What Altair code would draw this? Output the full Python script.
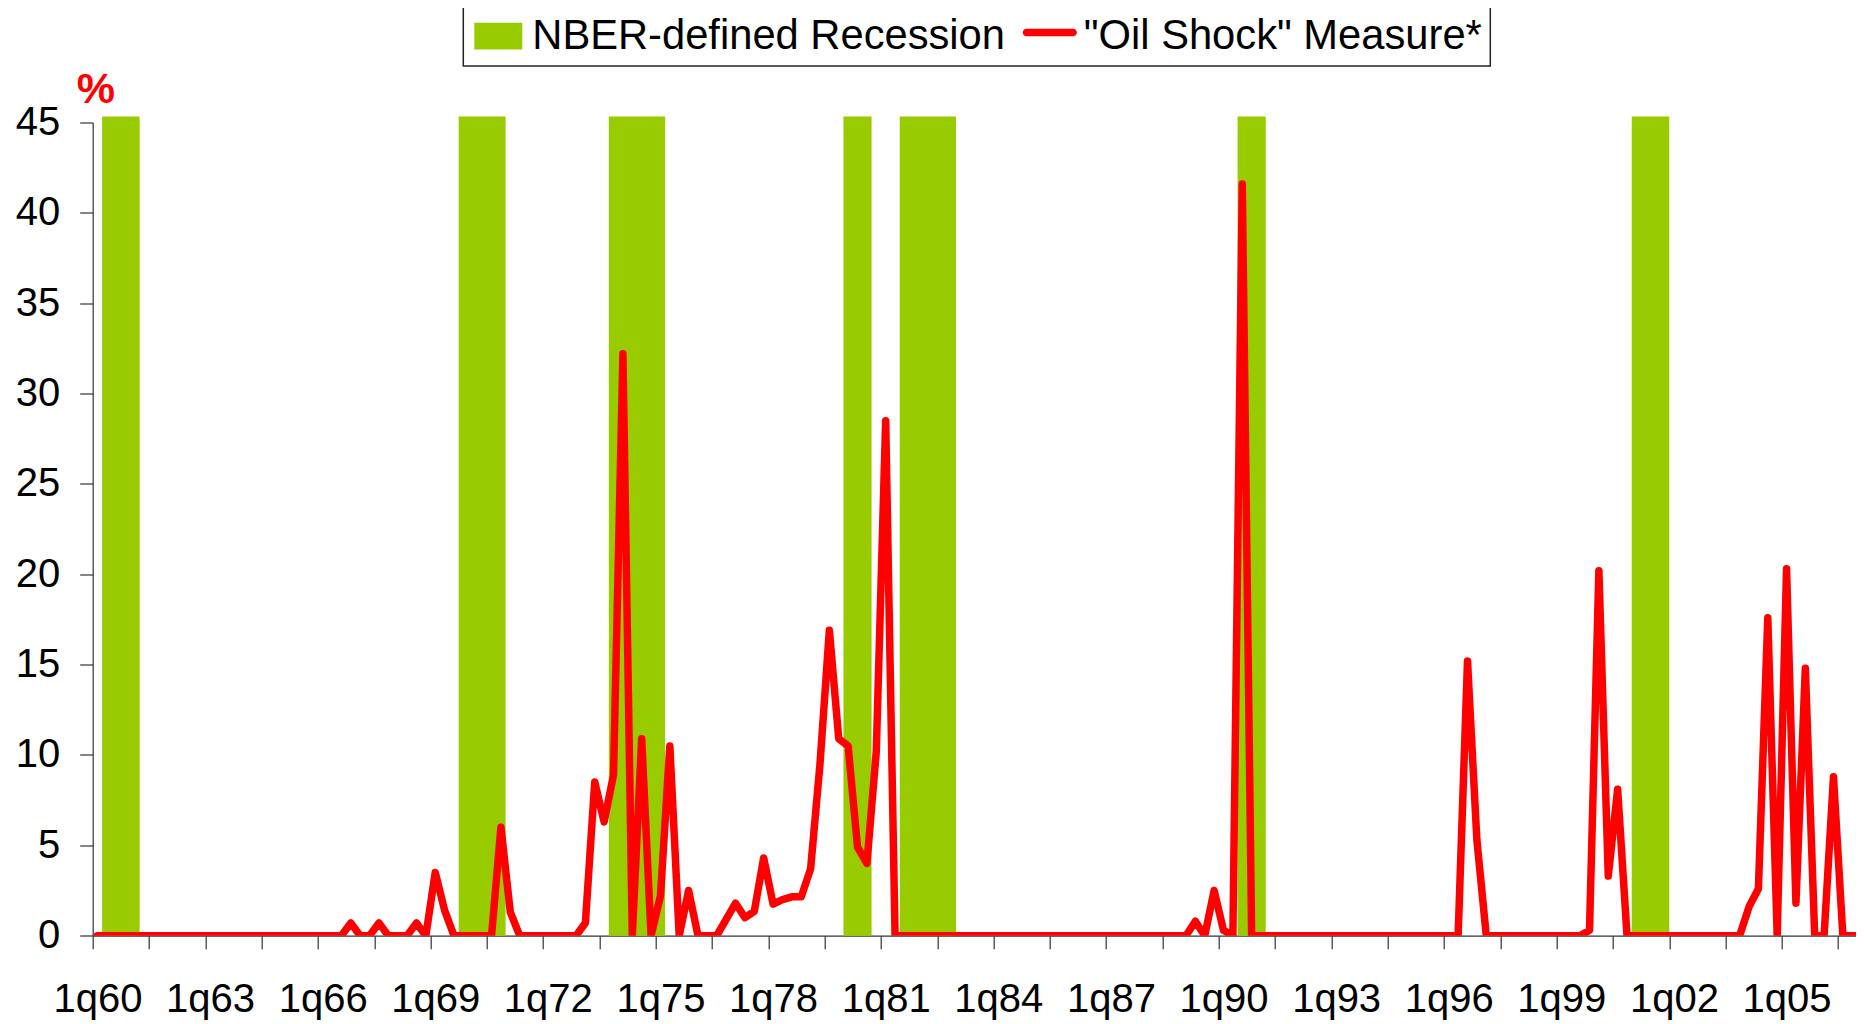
import json
import altair as alt
import pandas as pd

# ---------------- data ----------------
# "Oil Shock" measure (%), one value per quarter, index 0 = 1q60
oil_shock = [
    0, 0, 0, 0, 0, 0, 0, 0, 0, 0,            # 0-9
    0, 0, 0, 0, 0, 0, 0, 0, 0, 0,            # 10-19
    0, 0, 0, 0, 0, 0, 0, 0.7, 0, 0,          # 20-29
    0.7, 0, 0, 0, 0.7, 0, 3.5, 1.4, 0, 0,    # 30-39
    0, 0, 0, 6.0, 1.3, 0, 0, 0, 0, 0,        # 40-49
    0, 0, 0.7, 8.5, 6.3, 8.9, 32.2, 0, 10.9, 0,   # 50-59
    2.2, 10.5, 0, 2.5, 0, 0, 0, 0.9, 1.8, 1.0,    # 60-69
    1.35, 4.3, 1.75, 2.0, 2.15, 2.15, 3.7, 9.5, 16.9, 10.9,  # 70-79
    10.5, 4.9, 4.0, 10.2, 28.5, 0, 0, 0, 0, 0,    # 80-89
    0, 0, 0, 0, 0, 0, 0, 0, 0, 0,            # 90-99
    0, 0, 0, 0, 0, 0, 0, 0, 0, 0,            # 100-109
    0, 0, 0, 0, 0, 0, 0, 0.8, 0, 2.5,        # 110-119
    0.3, 0, 41.6, 0, 0, 0, 0, 0, 0, 0,       # 120-129
    0, 0, 0, 0, 0, 0, 0, 0, 0, 0,            # 130-139
    0, 0, 0, 0, 0, 0, 15.2, 5.3, 0, 0,       # 140-149
    0, 0, 0, 0, 0, 0, 0, 0, 0, 0.3,          # 150-159
    20.2, 3.3, 8.1, 0, 0, 0, 0, 0, 0, 0,     # 160-169
    0, 0, 0, 0, 0, 0, 1.6, 2.6, 17.6, 0,     # 170-179
    20.3, 1.8, 14.8, 0, 0, 8.8, 0, 0, 0,     # 180-188
]

# NBER-defined recessions: first and last quarter (index, 0 = 1q60)
rec_first = [1, 39, 55, 80, 86, 122, 164]
rec_last = [4, 43, 60, 82, 91, 124, 167]
rec_value = [45.33, 45.33, 45.33, 45.33, 45.33, 45.33, 45.33]

tick_labels = ["1q60", "1q63", "1q66", "1q69", "1q72", "1q75", "1q78", "1q81",
               "1q84", "1q87", "1q90", "1q93", "1q96", "1q99", "1q02", "1q05"]
tick_quarters = [0, 6, 12, 18, 24, 30, 36, 42, 48, 54, 60, 66, 72, 78, 84, 90,
                 96, 102, 108, 114, 120, 126, 132, 138, 144, 150, 156, 162,
                 168, 174, 180, 186]
y_ticks = [0, 5, 10, 15, 20, 25, 30, 35, 40, 45]
legend_labels = ["NBER-defined Recession", "\"Oil Shock\" Measure*"]

GREEN = "#99CC00"
RED = "#FF0000"
FONT = "Liberation Sans"

line_df = pd.DataFrame({"q": list(range(len(oil_shock))), "value": oil_shock})
rec_df = pd.DataFrame({"first": rec_first, "last": rec_last, "top": rec_value,
                       "base": [0] * len(rec_first)})
leg_df = pd.DataFrame({"series": legend_labels})

x_scale = alt.Scale(domain=[0, 187.9], nice=False, zero=False)
y_scale = alt.Scale(domain=[0, 45], nice=False, zero=True)

label_expr = ("datum.value % 12 == 0 ? " + json.dumps(tick_labels) +
              "[datum.value / 12] : ''")

x_axis = alt.Axis(values=tick_quarters, labelExpr=label_expr, title=None,
                  grid=False, labelFlush=False, labelOverlap=False,
                  labelBound=False, labelOffset=4.7, labelPadding=63,
                  labelBaseline="alphabetic", labelAngle=0,
                  tickSize=13, tickWidth=1.2, tickColor="#333",
                  domainColor="#333", domainWidth=1.2,
                  labelFontSize=40, labelColor="#000", labelFont=FONT)

y_axis = alt.Axis(values=y_ticks, title="%", titleAngle=0, titleX=2.6,
                  titleY=-20, titleAlign="center", titleBaseline="alphabetic",
                  titleColor=RED, titleFont=FONT, titleFontSize=43,
                  titleFontWeight="bold", grid=False, labelFlush=False,
                  labelOverlap=False, labelPadding=20, tickSize=13,
                  tickWidth=1.2, tickColor="#333", domainColor="#333",
                  domainWidth=1.2, labelFontSize=40, labelColor="#000",
                  labelFont=FONT)

bars = alt.Chart(rec_df).transform_calculate(
    end="datum.last + 1"
).mark_rect(color=GREEN).encode(
    x=alt.X("first:Q", scale=x_scale, axis=x_axis),
    x2="end:Q",
    y=alt.Y("top:Q", scale=y_scale, axis=y_axis),
    y2="base:Q",
)

line = alt.Chart(line_df).transform_calculate(
    xc="datum.q + 0.5"
).mark_line(color=RED, strokeWidth=7.5, strokeJoin="round", strokeCap="round",
            clip=True).encode(
    x=alt.X("xc:Q", scale=x_scale, axis=x_axis),
    y=alt.Y("value:Q", scale=y_scale, axis=y_axis),
)

# legend (a single legend built from colour + shape scales)
rect_path = "M-0.889,-0.494H0.889V0.494H-0.889Z"
stroke_path = ("M-0.861,-0.272H0.861A0.139,0.139 0 0 1 0.861,0.006"
               "H-0.861A0.139,0.139 0 0 1 -0.861,-0.272Z")
legend = alt.Legend(orient="none", legendX=370.6, legendY=-121.5,
                    direction="horizontal", title=None, labelFont=FONT,
                    labelFontSize=41.7, labelColor="#000", labelLimit=2000,
                    labelOffset=7, symbolSize=2916, symbolStrokeWidth=0,
                    columnPadding=17.5, padding=8, strokeColor="#222",
                    fillColor="#FFFFFF")

legend_layer = alt.Chart(leg_df).transform_filter("false").mark_point(
    filled=True, size=2916, opacity=1
).encode(
    color=alt.Color("series:N", scale=alt.Scale(domain=legend_labels,
                                                range=[GREEN, RED]),
                    legend=legend),
    shape=alt.Shape("series:N", scale=alt.Scale(domain=legend_labels,
                                                range=[rect_path, stroke_path]),
                    legend=legend),
)

chart = alt.layer(bars, line, legend_layer).properties(
    width=1763.3,
    height=813.2,
    padding={"left": 84.7, "top": 114.5, "right": 0, "bottom": 88.3},
    autosize=alt.AutoSizeParams(type="none"),
    background="#FFFFFF",
).configure(font=FONT).configure_view(strokeWidth=0).configure_legend(
    strokeWidth=1.5
)

chart.save("out.html", embed_options={"renderer": "svg", "actions": False})
